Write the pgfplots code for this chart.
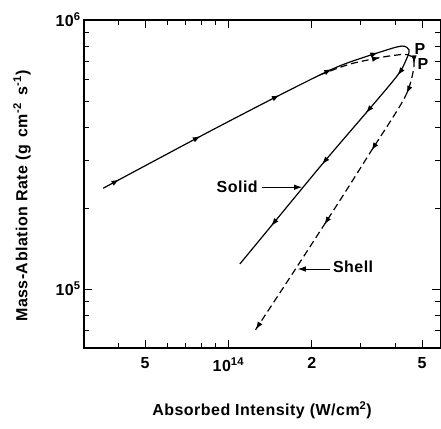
\documentclass[border=0pt]{standalone}
\usepackage{fontspec}
\setmainfont{Liberation Sans}[LetterSpace=3]
\usepackage{pgfplots}
\pgfplotsset{compat=1.18}
\usetikzlibrary{arrows.meta,decorations.markings}

\pgfplotstableread{
x y
3.53e13 2.37e5
8.09e13 3.74e5
1.56e14 5.31e5
2.47e14 6.69e5
3.53e14 7.60e5
4.23e14 8.00e5
4.49e14 7.74e5
4.41e14 7.22e5
4.09e14 6.25e5
3.16e14 4.55e5
2.18e14 2.91e5
1.41e14 1.69e5
1.10e14 1.24e5
}\solid

\pgfplotstableread{
x y
2.14e14 6.25e5
2.75e14 6.86e5
3.61e14 7.28e5
4.06e14 7.41e5
4.31e14 7.45e5
4.56e14 7.34e5
4.68e14 6.75e5
4.34e14 5.17e5
3.24e14 3.20e5
2.53e14 2.14e5
1.74e14 1.18e5
1.23e14 6.86e4
}\shell

\def\ah{\arrow{Latex[length=8pt,width=5.5pt]}}

\begin{document}
\begin{tikzpicture}[font=\fontsize{16}{19}\selectfont\bfseries]
\begin{axis}[
  name=ax,
  scale only axis, width=356pt, height=328pt,
  xmode=log, ymode=log,
  xmin=3.01e13, xmax=5.81e14, ymin=6.04e4, ymax=1e6,
  xtick={5e13,1e14,2e14,5e14},
  xticklabels={5,10\textsuperscript{14},2,5},
  minor xtick={4e13,6e13,7e13,8e13,9e13,3e14,4e14},
  ytick={1e5,1e6},
  yticklabels={10\textsuperscript{5},10\textsuperscript{6}},
  minor ytick={7e4,8e4,9e4,2e5,3e5,4e5,5e5,6e5,7e5,8e5,9e5},
  tick align=inside,
  major tick length=8pt, minor tick length=5pt,
  axis line style={line width=1.1pt},
  every tick/.style={black, line width=0.9pt},
  tick label style={font=\fontsize{16}{19}\selectfont\bfseries},
  xticklabel style={yshift=-6pt},
  xlabel={Absorbed Intensity (W/cm\textsuperscript{2})},
  ylabel={Mass-Ablation Rate (g\, cm\textsuperscript{-2}\, s\textsuperscript{-1})},
  every axis x label/.style={at={(axis description cs:0.5,-0.189)}, anchor=center},
  every axis y label/.style={at={(axis description cs:-0.174,0.463)}, anchor=center, rotate=90},
  clip=false,
]
\addplot[black, line width=1.2pt, smooth,
  postaction={decorate},
  decoration={markings,
    mark=at position 0.03 with {\ah},
    mark=at position 0.18 with {\ah},
    mark=at position 0.325 with {\ah},
    mark=at position 0.42 with {\ah},
    mark=at position 0.50 with {\ah},
    mark=at position 0.60 with {\ah},
    mark=at position 0.68 with {\ah},
    mark=at position 0.79 with {\ah},
    mark=at position 0.92 with {\ah}}
] table {\solid};
\addplot[black, line width=1.2pt, smooth, dash pattern=on 7pt off 4pt,
  postaction={decorate},
  decoration={markings,
    mark=at position 0.15 with {\ah},
    mark=at position 0.245 with {\ah},
    mark=at position 0.32 with {\ah},
    mark=at position 0.48 with {\ah},
    mark=at position 0.69 with {\ah},
    mark=at position 0.99 with {\ah}}
] table {\shell};
\node at (axis cs:1.076e14,2.39e5) {Solid};
\draw[-{Latex[length=8pt,width=5.5pt]}, line width=0.9pt] (axis cs:1.32e14,2.39e5) -- (axis cs:1.845e14,2.39e5);
\node at (axis cs:2.82e14,1.207e5) {Shell};
\draw[-{Latex[length=8pt,width=5.5pt]}, line width=0.9pt] (axis cs:2.33e14,1.187e5) -- (axis cs:1.78e14,1.187e5);
\node at (axis cs:4.92e14,7.80e5) {P};
\node at (axis cs:5.04e14,6.86e5) {P};
\end{axis}
\path ([shift={(-84pt,-80pt)}]ax.south west) rectangle ([shift={(1pt,20pt)}]ax.north east);
\end{tikzpicture}
\end{document}
